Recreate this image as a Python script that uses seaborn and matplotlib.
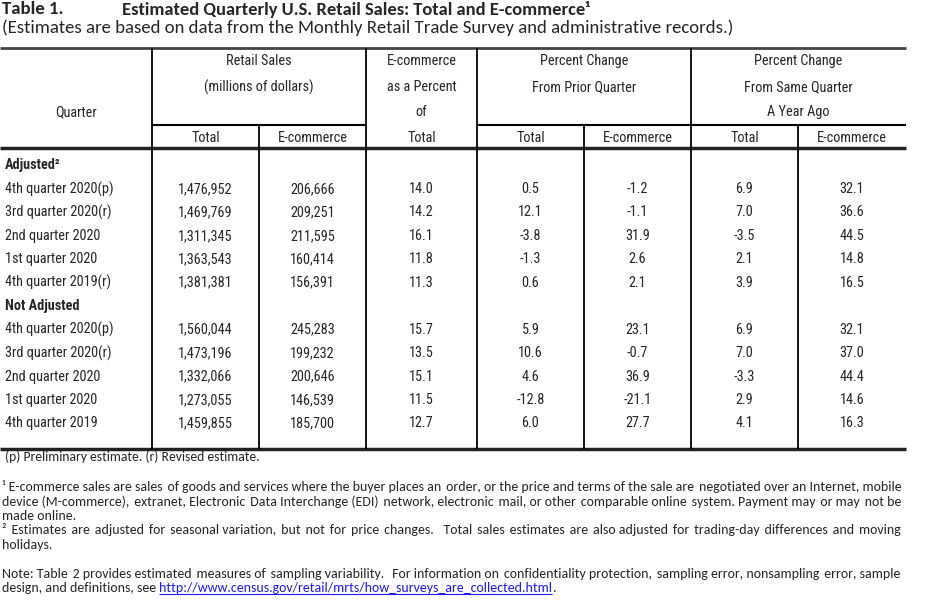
import matplotlib
matplotlib.use("Agg")
import matplotlib.pyplot as plt
import pandas as pd
import seaborn as sns
from matplotlib import font_manager

# table data
quarters_adj = ["4th quarter 2020(p)", "3rd quarter 2020(r)", "2nd quarter 2020",
                "1st quarter 2020", "4th quarter 2019(r)"]
total_adj = [1476952, 1469769, 1311345, 1363543, 1381381]
ecom_adj = [206666, 209251, 211595, 160414, 156391]
pct_adj = [14.0, 14.2, 16.1, 11.8, 11.3]
pq_total_adj = [0.5, 12.1, -3.8, -1.3, 0.6]
pq_ecom_adj = [-1.2, -1.1, 31.9, 2.6, 2.1]
yq_total_adj = [6.9, 7.0, -3.5, 2.1, 3.9]
yq_ecom_adj = [32.1, 36.6, 44.5, 14.8, 16.5]

quarters_nsa = ["4th quarter 2020(p)", "3rd quarter 2020(r)", "2nd quarter 2020",
                "1st quarter 2020", "4th quarter 2019"]
total_nsa = [1560044, 1473196, 1332066, 1273055, 1459855]
ecom_nsa = [245283, 199232, 200646, 146539, 185700]
pct_nsa = [15.7, 13.5, 15.1, 11.5, 12.7]
pq_total_nsa = [5.9, 10.6, 4.6, -12.8, 6.0]
pq_ecom_nsa = [23.1, -0.7, 36.9, -21.1, 27.7]
yq_total_nsa = [6.9, 7.0, -3.3, 2.9, 4.1]
yq_ecom_nsa = [32.1, 37.0, 44.4, 14.6, 16.3]

sub_headers = ["Total", "E-commerce", "Total", "Total", "E-commerce", "Total", "E-commerce"]

sns.set_theme(style="white")
fonts = font_manager.fontManager.ttflist
installed = {f.name for f in fonts}
body = {"family": "Lato", "fontsize": 9.2}
for name in ["Liberation Sans Narrow", "Roboto Condensed", "Open Sans Condensed"]:
    if name in installed:
        body = {"family": name, "fontsize": 10.3}
        break
else:
    if any(f.name == "DejaVu Sans" and f.stretch == "condensed" for f in fonts):
        body = {"family": "DejaVu Sans", "fontstretch": "condensed", "fontsize": 9.5}
note_font = "Carlito" if "Carlito" in installed else "Lato"
plt.rcParams["font.family"] = [note_font, "DejaVu Sans"]


def block(label, quarters, cols):
    rows = [{"Quarter": label, "kind": "group"}]
    for i, q in enumerate(quarters):
        r = {"Quarter": q, "kind": "row"}
        r["total"] = f"{cols[0][i]:,}"
        r["ecom"] = f"{cols[1][i]:,}"
        for name, c in zip(["pct", "pq_t", "pq_e", "yq_t", "yq_e"], cols[2:]):
            r[name] = f"{c[i]:.1f}"
        rows.append(r)
    return rows


df = pd.DataFrame(
    block("Adjusted²", quarters_adj,
          [total_adj, ecom_adj, pct_adj, pq_total_adj, pq_ecom_adj, yq_total_adj, yq_ecom_adj])
    + block("Not Adjusted", quarters_nsa,
            [total_nsa, ecom_nsa, pct_nsa, pq_total_nsa, pq_ecom_nsa, yq_total_nsa, yq_ecom_nsa])
)
value_cols = ["total", "ecom", "pct", "pq_t", "pq_e", "yq_t", "yq_e"]

fig = plt.figure(figsize=(9.25, 6.02), dpi=100)
ax = fig.add_axes([0, 0, 1, 1])
ax.set_xlim(0, 925)
ax.set_ylim(602, 0)
ax.axis("off")
renderer = fig.canvas.get_renderer()

edges = [0, 152, 259, 366, 477, 584, 691, 798, 906]
centers = [(a + b) / 2 for a, b in zip(edges[:-1], edges[1:])]
top, mid, head, bottom = 48, 125, 148, 449

# title
ax.text(2, 9.5, "Table 1.", fontsize=13.5, fontweight="bold", va="center")
ax.text(122, 9.5, "Estimated Quarterly U.S. Retail Sales: Total and E-commerce¹",
        fontsize=13.3, fontweight="bold", va="center")
ax.text(2, 28, "(Estimates are based on data from the Monthly Retail Trade Survey and administrative records.)",
        fontsize=13.5, va="center")

# rules
ax.hlines(top, 0, 906, color="#444444", lw=2)
ax.hlines(mid, 152, 366, color="black", lw=1.5)
ax.hlines(mid, 477, 906, color="black", lw=1.5)
ax.hlines(head, 0, 906, color="#222222", lw=2.5)
ax.hlines(bottom, 0, 906, color="#222222", lw=2.5)
for x in [152, 366, 477, 691]:
    ax.vlines(x, top, bottom, color="black", lw=1.3)
for x in [259, 584, 798]:
    ax.vlines(x, mid, bottom, color="black", lw=1.3)

# headers
hline = [61, 87, 112, 138]
ax.text(centers[0], hline[2], "Quarter", ha="center", va="center", **body)
ax.text(259, hline[0], "Retail Sales", ha="center", va="center", **body)
ax.text(259, hline[1], "(millions of dollars)", ha="center", va="center", **body)
for y, t in zip(hline, ["E-commerce", "as a Percent", "of", "Total"]):
    ax.text(centers[3], y, t, ha="center", va="center", **body)
ax.text(584, hline[0], "Percent Change", ha="center", va="center", **body)
ax.text(584, hline[1], "From Prior Quarter", ha="center", va="center", **body)
for y, t in zip(hline[:3], ["Percent Change", "From Same Quarter", "A Year Ago"]):
    ax.text(798.5, y, t, ha="center", va="center", **body)
for j, t in enumerate(sub_headers):
    if j == 2:
        continue
    ax.text(centers[j + 1], hline[3], t, ha="center", va="center", **body)

# body
row_y0, row_dy = 165.5, 23.45
for i, r in df.iterrows():
    y = row_y0 + row_dy * i
    if r["kind"] == "group":
        ax.text(5, y, r["Quarter"], fontweight="bold", va="center", **body)
        continue
    ax.text(5, y, r["Quarter"], va="center", **body)
    for j, c in enumerate(value_cols):
        ax.text(centers[j + 1], y, r[c], ha="center", va="center", **body)

# footnotes
note1 = "¹ E-commerce sales are sales of goods and services where the buyer places an order, or the price and terms of the sale are negotiated over an Internet, mobile"
probe = ax.text(0, 0, note1, fontsize=10)
fs = 10 * 893 / probe.get_window_extent(renderer).width
probe.remove()
base = 4
HAIR = "\u200a"


def width(s):
    t = ax.text(0, 0, s, fontsize=fs)
    w = t.get_window_extent(renderer).width
    t.remove()
    return w


hair_w = width("x" + HAIR + "x") - width("xx")
if hair_w < 0.3:
    HAIR, hair_w = " ", width("x x") - width("xx")


def justified(y, line, x0=2, x1=901):
    # one text per line; widen the word gaps with hair spaces
    words = line.split(" ")
    gaps = len(words) - 1
    extra = max(0, round((x1 - x0 - width(line)) / hair_w))
    out = words[0]
    for i in range(gaps):
        k = round((i + 1) * extra / gaps) - round(i * extra / gaps)
        out += " " + HAIR * k + words[i + 1]
    ax.text(x0, y + base, out, fontsize=fs, va="baseline")


ax.text(5, 457 + base, "(p) Preliminary estimate. (r) Revised estimate.", fontsize=9.8, va="baseline")
justified(487, note1)
justified(502, "device (M-commerce), extranet, Electronic Data Interchange (EDI) network, electronic mail, or other comparable online system. Payment may or may not be")
ax.text(2, 516 + base, "made online.", fontsize=fs, va="baseline")
justified(530, "² Estimates are adjusted for seasonal variation, but not for price changes.  Total sales estimates are also adjusted for trading-day differences and moving")
ax.text(2, 545 + base, "holidays.", fontsize=fs, va="baseline")
justified(574, "Note: Table 2 provides estimated measures of sampling variability.  For information on confidentiality protection, sampling error, nonsampling error, sample")
t1 = ax.text(2, 588 + base, "design, and definitions, see ", fontsize=fs, va="baseline")
w1 = t1.get_window_extent(renderer).width
link = ax.text(2 + w1, 588 + base, "http://www.census.gov/retail/mrts/how_surveys_are_collected.html",
               fontsize=fs, va="baseline", color="#1a1aff")
w2 = link.get_window_extent(renderer).width
ax.hlines(594, 2 + w1, 2 + w1 + w2, color="#1a1aff", lw=0.8)
ax.text(2 + w1 + w2, 588 + base, ".", fontsize=fs, va="baseline")

fig.savefig("out.png", dpi=100)
